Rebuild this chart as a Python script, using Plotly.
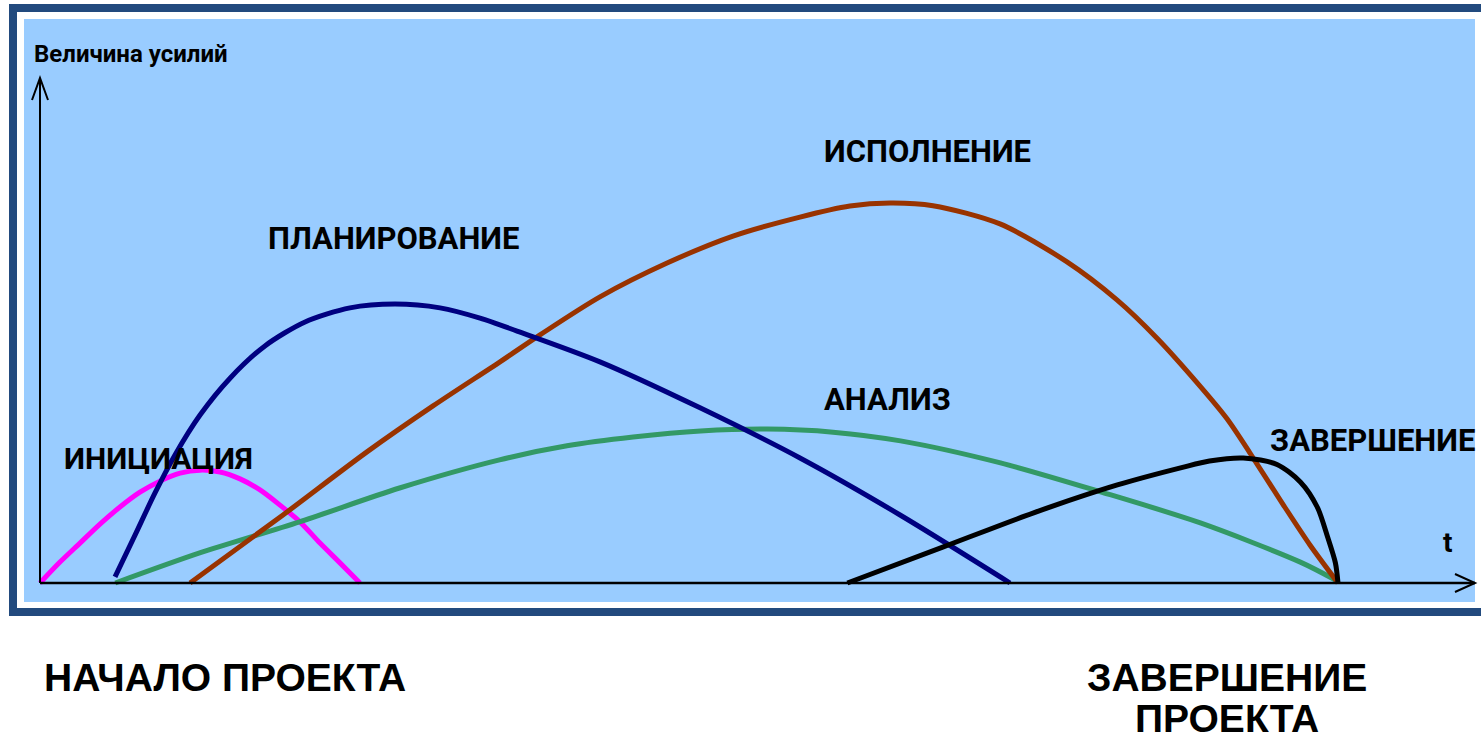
import plotly.graph_objects as go

W, H = 1481, 741

# ---- data (t: time 0..100 = project start..end, effort: 0..100 = peak of execution)
init_t = [0, 1.54, 3.08, 4.62, 6.16, 7.70, 9.24, 10.79, 12.33, 13.87, 15.41, 16.95,
          18.49, 20.03, 21.57, 23.11, 24.65]
init_e = [0, 5.5, 10.5, 15.5, 20.0, 23.9, 26.8, 28.9, 29.7, 29.2, 27.4, 24.5,
          20.5, 16.1, 10.5, 5.3, 0]

plan_t = [5.78, 7.32, 8.86, 10.40, 12.33, 14.64, 17.33, 20.42, 23.88, 27.35, 30.82,
          33.90, 36.75, 43.14, 50.85, 58.55, 66.26, 74.73]
plan_e = [1.6, 12.6, 23.7, 33.7, 44.2, 53.9, 62.4, 68.7, 72.4, 73.4, 72.4,
          69.7, 66.3, 58.2, 46.1, 32.9, 17.9, 0]

exec_t = [11.56, 18.72, 25.19, 30.28, 35.44, 38.52, 43.14, 48.31, 53.39, 58.55, 62.40,
          65.49, 68.80, 73.96, 79.12, 82.97, 86.06, 89.37, 91.45, 93.22, 95.76, 97.84, 100]
exec_e = [0, 17.9, 34.5, 46.6, 58.2, 65.3, 75.3, 84.2, 91.3, 96.3, 99.2,
          100, 99.3, 94.5, 84.5, 74.5, 64.4, 51.8, 43.2, 34.2, 20.7, 10.0, 0]

anal_t = [5.8, 12.3, 20.0, 27.7, 35.4, 40.6, 45.7, 50.9, 56.0, 61.1, 66.3, 74.0, 81.7,
          89.4, 97.1, 99.8]
anal_e = [0, 7.9, 16.1, 25.0, 32.4, 36.1, 38.4, 40.0, 40.5, 39.7, 37.4, 31.6, 24.0,
          15.8, 5.5, 0.8]

close_t = [62.2, 69.6, 76.5, 83.0, 88.1, 90.1, 92.7, 95.3, 97.1, 98.4, 99.2, 99.8, 100]
close_e = [0, 9.5, 18.4, 25.8, 30.5, 32.1, 32.9, 31.2, 26.6, 20.0, 12.1, 5.3, 0]

labels = ["ИНИЦИАЦИЯ", "ПЛАНИРОВАНИЕ", "ИСПОЛНЕНИЕ", "АНАЛИЗ", "ЗАВЕРШЕНИЕ"]
y_title = "Величина усилий"
x_title = "t"
start_text = "НАЧАЛО ПРОЕКТА"
end_lines = ["ЗАВЕРШЕНИЕ", "ПРОЕКТА"]

# ---- geometry (pixel <-> data)
X0, SX = 40, 12.98     # pixel x of t=0, px per t unit
Y0, SY = 583, 3.8      # pixel y of e=0, px per effort unit
T_END = (1475 - X0) / SX
E_TOP = (Y0 - 78) / SY

def px(x):
    return x / W

def py(y):
    return (H - y) / H

fig = go.Figure()

series = [
    (init_t, init_e, "#FF00FF"),
    (anal_t, anal_e, "#339966"),
    (exec_t, exec_e, "#993300"),
    (plan_t, plan_e, "#000080"),
    (close_t, close_e, "#000000"),
]
for t, e, c in series:
    fig.add_trace(go.Scatter(x=t, y=e, mode="lines",
                             line=dict(color=c, width=5, shape="spline", smoothing=0.8),
                             hoverinfo="skip", showlegend=False))

shapes = []
# frame
shapes.append(dict(type="rect", xref="paper", yref="paper", x0=px(9), x1=px(1495),
                   y0=py(616), y1=py(4), fillcolor="#224A7E", line=dict(width=0), layer="below"))
shapes.append(dict(type="rect", xref="paper", yref="paper", x0=px(17), x1=px(1495),
                   y0=py(608), y1=py(12), fillcolor="#FFFFFF", line=dict(width=0), layer="below"))
shapes.append(dict(type="rect", xref="paper", yref="paper", x0=px(24), x1=px(1475),
                   y0=py(602), y1=py(19), fillcolor="#99CCFF", line=dict(width=0), layer="below"))
# axes
shapes.append(dict(type="line", xref="x", yref="y", x0=0, x1=T_END, y0=0, y1=0,
                   line=dict(color="black", width=2.5)))
shapes.append(dict(type="line", xref="x", yref="y", x0=0, x1=0, y0=0, y1=E_TOP,
                   line=dict(color="black", width=2)))
# arrow heads
ax_dt = 20 / SX
ax_de = 9 / SY
shapes.append(dict(type="path", xref="x", yref="y",
                   path=f"M {T_END-ax_dt},{ax_de} L {T_END},0 L {T_END-ax_dt},{-ax_de}",
                   line=dict(color="black", width=2)))
ay_dt = 8 / SX
ay_de = 22 / SY
shapes.append(dict(type="path", xref="x", yref="y",
                   path=f"M {-ay_dt},{E_TOP-ay_de} L 0,{E_TOP} L {ay_dt},{E_TOP-ay_de}",
                   line=dict(color="black", width=2)))

ann = []
label_pos = [(62, 459), (266, 238), (822, 151), (822, 399), (1268, 440)]
label_size = [30, 31, 31, 31, 31]
for txt, (lx, ly), fs in zip(labels, label_pos, label_size):
    ann.append(dict(text=f"<b>{txt}</b>", xref="paper", yref="paper", x=px(lx), y=py(ly),
                    xanchor="left", yanchor="middle", showarrow=False,
                    font=dict(family="Roboto", size=fs, color="black")))
ann.append(dict(text=f"<b>{y_title}</b>", xref="paper", yref="paper", x=px(32), y=py(54),
                xanchor="left", yanchor="middle", showarrow=False,
                font=dict(family="Roboto", size=24, color="black")))
ann.append(dict(text=f"<b>{x_title}</b>", xref="paper", yref="paper", x=px(1447), y=py(543),
                xanchor="center", yanchor="middle", showarrow=False,
                font=dict(family="Roboto", size=28, color="black")))
big_font = dict(family="Liberation Sans", size=39, color="black")
ann.append(dict(text=f"<b>{start_text}</b>", xref="paper", yref="paper", x=px(42), y=py(677),
                xanchor="left", yanchor="middle", showarrow=False, font=big_font))
for line_txt, ly in zip(end_lines, [677, 718]):
    ann.append(dict(text=f"<b>{line_txt}</b>", xref="paper", yref="paper", x=px(1227), y=py(ly),
                    xanchor="center", yanchor="middle", showarrow=False, font=big_font))

fig.update_layout(
    width=W, height=H, autosize=False,
    margin=dict(l=0, r=0, t=0, b=0, pad=0),
    paper_bgcolor="white", plot_bgcolor="rgba(0,0,0,0)",
    xaxis=dict(range=[-X0 / SX, (W - X0) / SX], visible=False, fixedrange=True),
    yaxis=dict(range=[(Y0 - H) / SY, Y0 / SY], visible=False, fixedrange=True),
    shapes=shapes, annotations=ann, showlegend=False,
)

fig.write_html("out.html", config={"displayModeBar": False},
               post_script="document.body.style.margin='0';document.body.style.overflow='hidden';")
